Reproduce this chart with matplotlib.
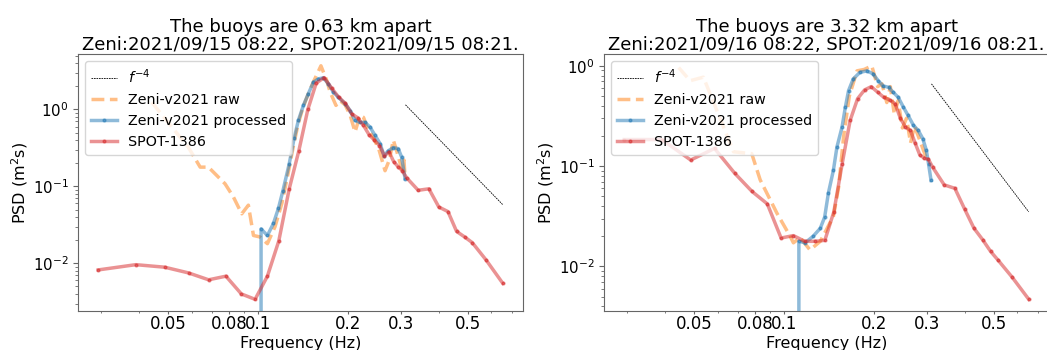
import numpy as np
import matplotlib
matplotlib.use('Agg')
import matplotlib.pyplot as plt
from matplotlib.ticker import NullFormatter

# Spotter frequency bins (Hz)
spot_freq = [0.0293, 0.0391, 0.0488, 0.0586, 0.0684, 0.0781, 0.0879, 0.0977, 0.1074, 0.1172,
             0.1270, 0.1367, 0.1465, 0.1562, 0.1660, 0.1758, 0.1855, 0.1953, 0.2051, 0.2148,
             0.2246, 0.2344, 0.2441, 0.2539, 0.2637, 0.2734, 0.2832, 0.2930, 0.3027, 0.3125,
             0.3418, 0.3711, 0.4004, 0.4297, 0.4590, 0.4883, 0.5176, 0.5762, 0.6543]

# ---- left panel: 2021/09/15, 0.63 km
spot_psd_1 = [0.0082, 0.0096, 0.0089, 0.0075, 0.0061, 0.0068, 0.0040, 0.0034, 0.0068, 0.0195,
              0.093, 0.29, 1.0, 2.2, 2.6, 1.9, 1.45, 1.2, 0.88, 0.78,
              0.62, 0.47, 0.40, 0.34, 0.25, 0.28, 0.21, 0.18, 0.16, 0.13,
              0.089, 0.093, 0.054, 0.047, 0.026, 0.022, 0.0186, 0.011, 0.0055]

proc_freq_1 = [0.098, 0.1023, 0.1074, 0.1125, 0.1169, 0.121, 0.127, 0.1318, 0.1362, 0.1416,
               0.147, 0.1529, 0.1588, 0.165, 0.1715, 0.1782, 0.1852, 0.195, 0.2026, 0.2105,
               0.2188, 0.2273, 0.2362, 0.2455, 0.2551, 0.263, 0.2716, 0.2822, 0.2932, 0.3011,
               0.309]
proc_psd_1 = [0.0, 0.028, 0.023, 0.033, 0.052, 0.088, 0.197, 0.42, 0.72, 1.13,
              1.6, 2.26, 2.5, 2.58, 2.16, 1.68, 1.44, 1.19, 0.97, 0.72,
              0.68, 0.68, 0.59, 0.46, 0.36, 0.25, 0.29, 0.32, 0.31, 0.24,
              0.126]

raw_freq_1 = [0.0442, 0.0586, 0.0641, 0.0683, 0.0776, 0.0827, 0.0882, 0.0928, 0.0965, 0.1015,
              0.1074, 0.1139, 0.12, 0.126, 0.131, 0.136, 0.141, 0.147, 0.153, 0.158,
              0.162, 0.1694, 0.1739, 0.1818, 0.1875, 0.195, 0.2026, 0.2105, 0.2188, 0.2246,
              0.2333, 0.2421, 0.2536, 0.265, 0.2738, 0.2824, 0.2897, 0.3011, 0.3065, 0.309]
raw_psd_1 = [1.24, 0.32, 0.178, 0.178, 0.108, 0.073, 0.044, 0.057, 0.023, 0.022,
             0.018, 0.03, 0.06, 0.15, 0.33, 0.65, 1.05, 1.6, 2.3, 3.0,
             3.7, 2.38, 1.68, 1.13, 1.3, 1.15, 0.85, 0.51, 0.84, 0.79,
             0.53, 0.44, 0.29, 0.16, 0.22, 0.40, 0.29, 0.17, 0.22, 0.13]

# ---- right panel: 2021/09/16, 3.32 km
spot_psd_2 = [0.184, 0.184, 0.115, 0.15, 0.085, 0.056, 0.042, 0.0192, 0.0203, 0.0178,
              0.0178, 0.0182, 0.035, 0.106, 0.285, 0.47, 0.575, 0.62, 0.545, 0.486,
              0.457, 0.42, 0.30, 0.245, 0.227, 0.17, 0.13, 0.12, 0.117, 0.098,
              0.065, 0.06, 0.037, 0.024, 0.0185, 0.0141, 0.0115, 0.0078, 0.0047]

proc_freq_2 = [0.108, 0.112, 0.1175, 0.125, 0.132, 0.1365, 0.1405, 0.146, 0.15, 0.156,
               0.16, 0.164, 0.17, 0.179, 0.189, 0.198, 0.206, 0.214, 0.223, 0.231,
               0.24, 0.25, 0.259, 0.27, 0.28, 0.29, 0.298, 0.303, 0.309]
proc_psd_2 = [0.0, 0.0178, 0.0172, 0.02, 0.024, 0.031, 0.054, 0.091, 0.155, 0.245,
              0.386, 0.565, 0.74, 0.86, 0.89, 0.83, 0.71, 0.63, 0.61, 0.545,
              0.486, 0.386, 0.32, 0.255, 0.227, 0.188, 0.144, 0.106, 0.072]

raw_freq_2 = [0.0445, 0.0486, 0.0538, 0.0678, 0.078, 0.0832, 0.0946, 0.1047, 0.1074, 0.113,
              0.122, 0.132, 0.146, 0.152, 0.158, 0.165, 0.175, 0.185, 0.196, 0.205,
              0.212, 0.22, 0.226, 0.233, 0.24, 0.248, 0.256, 0.264, 0.272, 0.28,
              0.29, 0.298]
raw_psd_2 = [0.96, 0.71, 0.77, 0.139, 0.133, 0.073, 0.034, 0.02, 0.0172, 0.0194,
             0.0146, 0.0178, 0.0316, 0.062, 0.2, 0.5, 0.89, 0.92, 1.0, 0.62,
             0.66, 0.43, 0.62, 0.33, 0.45, 0.24, 0.3, 0.17, 0.25, 0.2,
             0.15, 0.12]

# f^-4 reference segment end points
f4_freq = [0.31, 0.654]
f4_psd_1 = [1.15, 0.058]
f4_psd_2 = [0.66, 0.035]

titles = ['The buoys are 0.63 km apart\nZeni:2021/09/15 08:22, SPOT:2021/09/15 08:21.',
          'The buoys are 3.32 km apart\nZeni:2021/09/16 08:22, SPOT:2021/09/16 08:21.']
xtick_vals = [0.05, 0.08, 0.1, 0.2, 0.3, 0.5]
xtick_labels = ['0.05', '0.08', '0.1', '0.2', '0.3', '0.5']

panels = [(raw_freq_1, raw_psd_1, proc_freq_1, proc_psd_1, spot_psd_1, f4_psd_1),
          (raw_freq_2, raw_psd_2, proc_freq_2, proc_psd_2, spot_psd_2, f4_psd_2)]

plt.rcParams['axes.edgecolor'] = '#666666'
plt.rcParams['xtick.color'] = '#666666'
plt.rcParams['ytick.color'] = '#666666'
plt.rcParams['xtick.labelcolor'] = 'black'
plt.rcParams['ytick.labelcolor'] = 'black'

fig = plt.figure(figsize=(10.47, 3.5), dpi=100)
ax_pos = [[0.0745, 0.1114, 0.425, 0.734], [0.5769, 0.1114, 0.425, 0.734]]

for i, (rf, rp, pf, pp, sp, f4) in enumerate(panels):
    ax = fig.add_axes(ax_pos[i])
    ax.plot(f4_freq, f4, color='k', linestyle=(0, (2, 1)), lw=0.6, label='$f^{-4}$')
    ax.plot(rf, rp, color='tab:orange', linestyle='--', lw=2.5, alpha=0.5, label='Zeni-v2021 raw')
    ax.plot(pf, pp, color='tab:blue', marker='.', ms=4, lw=2.5, alpha=0.5, label='Zeni-v2021 processed')
    ax.plot(spot_freq, sp, color='tab:red', marker='.', ms=4, lw=2.5, alpha=0.5, label='SPOT-1386')
    ax.set_xscale('log')
    ax.set_yscale('log')
    ax.set_xticks(xtick_vals)
    ax.set_xticklabels(xtick_labels)
    ax.xaxis.set_minor_formatter(NullFormatter())
    ax.tick_params(axis='x', which='major', labelsize=12, pad=0.5, length=2.5)
    ax.tick_params(axis='x', which='minor', length=1.5)
    ax.tick_params(axis='y', labelsize=10.8)
    ax.set_xlabel('Frequency (Hz)', fontsize=11.5, labelpad=2)
    ax.set_ylabel('PSD (m$^2$s)', fontsize=11.5, labelpad=2)
    ax.set_title(titles[i], fontsize=13, pad=3, linespacing=1.0)
    ax.legend(loc='upper left', fontsize=10.3, handlelength=1.8)

plt.savefig('out.png', dpi=100)
